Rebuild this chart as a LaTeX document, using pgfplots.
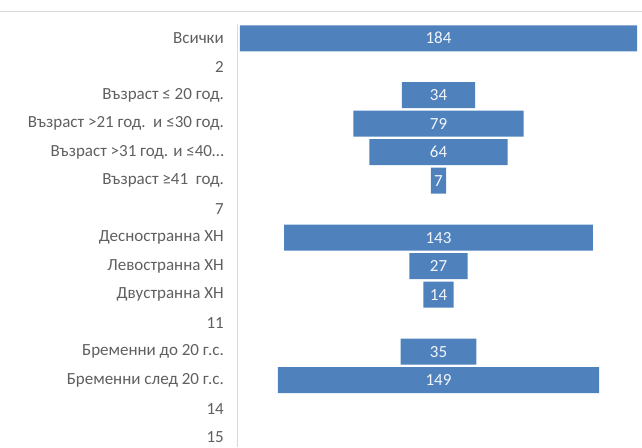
\documentclass[border=0pt]{standalone}
\usepackage{pgfplots}
\pgfplotsset{compat=1.18}
\usepackage{pgfplotstable}
\usepackage{fontspec}
\setmainfont{Carlito}
\definecolor{barblue}{RGB}{79,129,189}
\definecolor{labgray}{RGB}{95,95,95}
\definecolor{linegray}{RGB}{217,217,217}
\pgfplotstableread{
idx v
1 184
3 34
4 79
5 64
6 7
8 143
9 27
10 14
12 35
13 149
}\data
\pgfplotsset{funnel/.style={
  scale only axis, width=403pt, height=423.2pt,
  xmin=-1.39, xmax=185.39,
  ymin=0.5, ymax=15.35, y dir=reverse,
  clip=false,
}}
\begin{document}
\begin{tikzpicture}
\useasboundingbox (-237pt,0.2pt) rectangle (405pt,447.2pt);
\clip (-237pt,0.2pt) rectangle (405pt,447.2pt);
\draw[linegray, line width=1pt] (-237pt,435.2pt) -- (405pt,435.2pt);
\begin{axis}[funnel,
  xbar stacked, bar width=26pt,
  axis x line=none, axis y line=left,
  y axis line style={-, draw=linegray, line width=0.8pt},
  major tick length=0pt,
  ytick={1,2,3,4,5,6,7,8,9,10,11,12,13,14,15},
  yticklabels={{Всички},{2},{Възраст ≤ 20 год.},{Възраст >21 год.\ \ и ≤30 год.},{Възраст >31 год. и ≤40\ldots},{Възраст ≥41\ \ год.},{7},{Десностранна ХН},{Левостранна ХН},{Двустранна ХН},{11},{Бременни до 20 г.с.},{Бременни след 20 г.с.},{14},{15}},
  yticklabel style={font=\fontsize{17}{18}\selectfont, text=labgray, anchor=east, inner sep=0pt, xshift=-13pt},
]
\addplot[draw=none, fill=none] table[x expr=(184-\thisrow{v})/2, y=idx] {\data};
\addplot[draw=none, fill=barblue] table[x=v, y=idx] {\data};
\end{axis}
\begin{axis}[funnel, hide axis, /pgf/number format/assume math mode=true]
\addplot[draw=none, mark=none, nodes near coords, point meta=explicit,
  every node near coord/.append style={anchor=center, text=white!92!barblue, font=\fontsize{17}{18}\selectfont, inner sep=0pt}]
  table[x expr=92, y=idx, meta=v] {\data};
\end{axis}
\end{tikzpicture}
\end{document}
